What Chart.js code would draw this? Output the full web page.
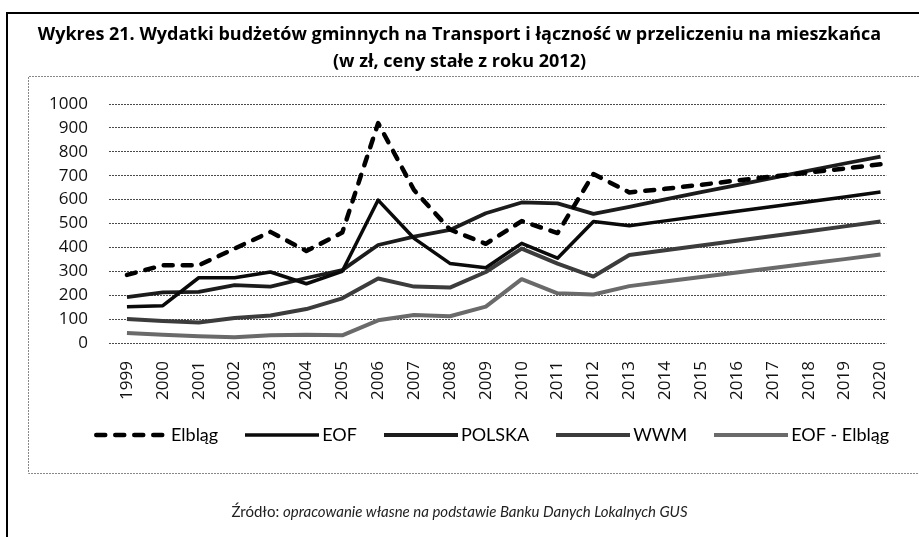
<!DOCTYPE html>
<html><head><meta charset="utf-8">
<script src="https://cdn.jsdelivr.net/npm/chart.js@4.4.1/dist/chart.umd.min.js"></script>
<style>
html,body{margin:0;padding:0;background:#fff;}
#wrap{position:relative;width:919px;height:537px;overflow:hidden;background:#fff;}
#c{position:absolute;left:0;top:0;}
#src{position:absolute;left:0;width:919px;top:502px;text-align:center;font-family:Lato,sans-serif;font-size:15px;color:#222;}
</style></head><body>
<div id="wrap"><canvas id="c" width="919" height="537"></canvas>
<div id="src">Źródło: <i>opracowanie własne na podstawie Banku Danych Lokalnych GUS</i></div></div>
<script>
const years = ['1999','2000','2001','2002','2003','2004','2005','2006','2007','2008','2009','2010','2011','2012','2013','2014','2015','2016','2017','2018','2019','2020'];
const elblag    = [285, 325, 325, 395, 465, 385, 462, 920, 640, 475, 415, 510, 460, 707, 630, 645, 662, 680, 697, 713, 730, 748];
const eof       = [152, 156, 273, 273, 297, 248, 300, 598, 438, 333, 315, 417, 355, 508, 491, 511, 531, 551, 571, 591, 611, 632];
const polska    = [192, 212, 214, 242, 236, 272, 305, 410, 445, 473, 543, 588, 584, 540, 570, 601, 631, 661, 691, 721, 751, 780];
const wwm       = [100, 92, 86, 105, 115, 142, 187, 270, 236, 232, 297, 395, 332, 278, 368, 388, 408, 428, 448, 468, 488, 508];
const eofElblag = [42, 35, 28, 24, 32, 35, 32, 95, 117, 112, 152, 267, 208, 203, 238, 257, 276, 295, 314, 333, 351, 370];
const yTicks = [0,100,200,300,400,500,600,700,800,900,1000];
const seriesNames = ['Elbląg','EOF','POLSKA','WWM','EOF - Elbląg'];
const titleLines = ['Wykres 21. Wydatki budżetów gminnych na Transport i łączność w przeliczeniu na mieszkańca','(w zł, ceny stałe z roku 2012)'];

const pts = arr => arr.map((v,i)=>({x:i,y:v}));

function sample(ds){
  const c = document.createElement('canvas');
  c.width = 74; c.height = 10;
  const g = c.getContext('2d');
  g.strokeStyle = ds.borderColor; g.lineWidth = ds.borderWidth;
  g.lineCap = ds.borderCapStyle || 'butt';
  g.setLineDash(ds.borderDash || []);
  const inset = g.lineCap === 'round' ? ds.borderWidth/2 : 0;
  g.beginPath(); g.moveTo(inset,5); g.lineTo(74-inset,5); g.stroke();
  return c;
}

const frames = {
  id:'frames',
  beforeDraw(chart){
    const ctx = chart.ctx;
    ctx.save();
    ctx.fillStyle='#fff'; ctx.fillRect(0,0,chart.width,chart.height);
    ctx.strokeStyle='#888'; ctx.lineWidth=1; ctx.setLineDash([2,1]);
    ctx.beginPath();
    ctx.moveTo(940,76.5); ctx.lineTo(28.5,76.5); ctx.lineTo(28.5,473.5); ctx.lineTo(940,473.5);
    ctx.stroke();
    ctx.setLineDash([]); ctx.strokeStyle='#000'; ctx.lineWidth=2;
    ctx.beginPath(); ctx.moveTo(7,540); ctx.lineTo(7,13); ctx.lineTo(925,13); ctx.stroke();
    ctx.restore();
  },
  afterLayout(chart){
    const lg = chart.legend;
    if (lg) { lg.left += 35; lg.right += 35; lg.top -= 20; lg.bottom -= 20; }
  }
};

const common = {tension:0, pointRadius:0, pointHoverRadius:0, fill:false, borderJoinStyle:'round'};
const datasets = [
  Object.assign({label:seriesNames[0], data:pts(elblag), borderColor:'#000', backgroundColor:'#000', borderWidth:4.5, borderDash:[9,10], borderCapStyle:'round'}, common),
  Object.assign({label:seriesNames[1], data:pts(eof), borderColor:'#0a0a0a', backgroundColor:'#0a0a0a', borderWidth:3.5}, common),
  Object.assign({label:seriesNames[2], data:pts(polska), borderColor:'#1c1c1c', backgroundColor:'#1c1c1c', borderWidth:3.8}, common),
  Object.assign({label:seriesNames[3], data:pts(wwm), borderColor:'#3c3c3c', backgroundColor:'#3c3c3c', borderWidth:4}, common),
  Object.assign({label:seriesNames[4], data:pts(eofElblag), borderColor:'#6a6a6a', backgroundColor:'#6a6a6a', borderWidth:4}, common)
];
const samples = datasets.map(sample);

new Chart(document.getElementById('c'), {
  type:'line',
  data:{datasets},
  options:{
    responsive:false, animation:false, devicePixelRatio:1,
    layout:{padding:{left:11,right:11,top:0,bottom:63}},
    plugins:{
      title:{display:true, text:titleLines, color:'#000', font:{family:'Open Sans', size:18, weight:'bold', lineHeight:1.5}, padding:{top:21.5,bottom:28.5}},
      legend:{position:'bottom', labels:{
        usePointStyle:true, pointStyleWidth:62, color:'#111', font:{family:'Lato', size:18}, padding:33,
        generateLabels:chart=>chart.data.datasets.map((ds,i)=>({text:ds.label, pointStyle:samples[i], fillStyle:ds.borderColor, strokeStyle:ds.borderColor, lineWidth:0, hidden:false, datasetIndex:i}))
      }},
      tooltip:{enabled:false}
    },
    scales:{
      x:{type:'linear', min:-0.5, max:21.16,
        afterBuildTicks:s=>{s.ticks = years.map((_,i)=>({value:i}));},
        afterFit:s=>{s.height = 70;},
        grid:{display:false, drawTicks:false}, border:{display:false},
        ticks:{callback:v=>years[v], minRotation:90, maxRotation:90, padding:18, color:'#111', font:{family:'Open Sans', size:17}}
      },
      y:{min:0, max:1000,
        afterBuildTicks:s=>{s.ticks = yTicks.map(v=>({value:v}));},
        afterFit:s=>{s.width = 98;},
        grid:{color:'#4a4a4a', lineWidth:1, drawTicks:false}, border:{display:false, dash:[2,1]},
        ticks:{callback:v=>String(v), padding:21, color:'#111', font:{family:'Open Sans', size:17}}
      }
    }
  },
  plugins:[frames]
});
</script>
</body></html>
